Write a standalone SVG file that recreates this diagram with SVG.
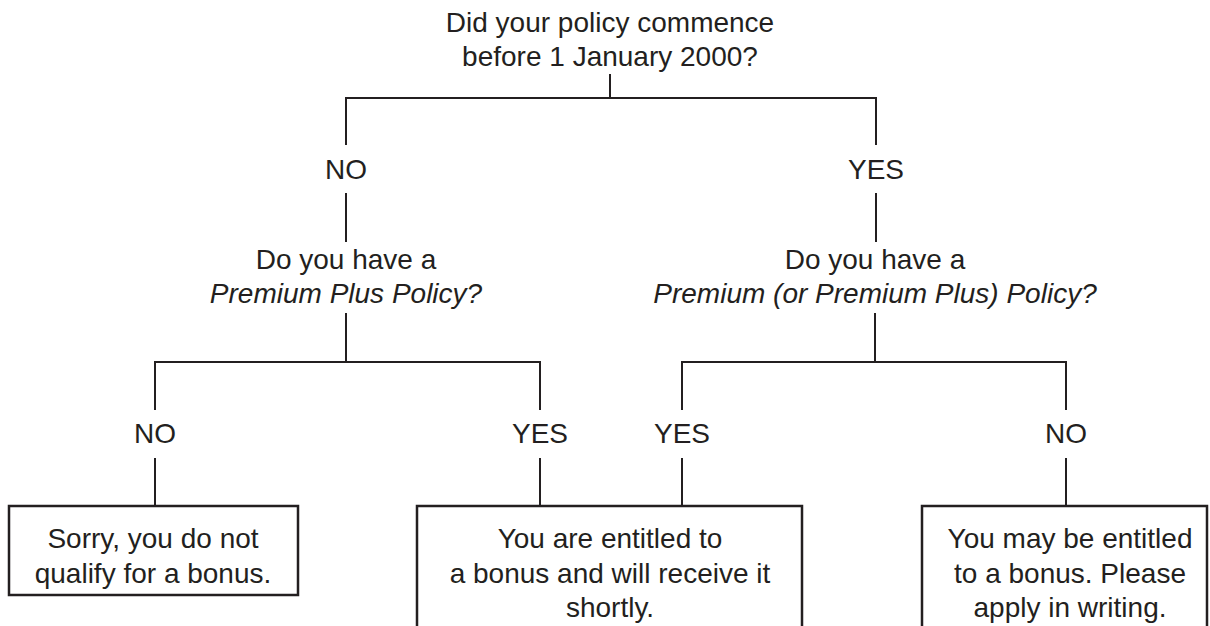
<svg xmlns="http://www.w3.org/2000/svg" width="1210" height="626" viewBox="0 0 1210 626">
<style>
text{font-family:"Liberation Sans",Arial,Helvetica,sans-serif;font-size:28px;fill:#231f20;text-anchor:middle}
.it{font-style:italic}
.ln{stroke:#231f20;stroke-width:2;fill:none}
.box{stroke:#231f20;stroke-width:2.5;fill:#fff}
</style>
<rect width="1210" height="626" fill="#fff"/>
<g id="connectors" class="ln">
<path d="M610 74V98M346 145V98H876V145"/>
<path d="M346 193V242M876 193V242"/>
<path d="M346 313V362M155 410V362H540V410"/>
<path d="M875 313V362M682 410V362H1066V410"/>
<path d="M155 458V506M540 458V506M682 458V506M1066 458V506"/>
</g>
<g id="q1"><text x="610" y="32">Did your policy commence</text><text x="610" y="66">before 1 January 2000?</text></g>
<g id="l1-no"><text x="346" y="179">NO</text></g>
<g id="l1-yes"><text x="876" y="179">YES</text></g>
<g id="q2"><text x="346" y="269">Do you have a</text><text class="it" x="346" y="303">Premium Plus Policy?</text></g>
<g id="q3"><text x="875" y="269">Do you have a</text><text class="it" x="875" y="303">Premium (or Premium Plus) Policy?</text></g>
<g id="l2-no-left"><text x="155" y="443">NO</text></g>
<g id="l2-yes-left"><text x="540" y="443">YES</text></g>
<g id="l2-yes-right"><text x="682" y="443">YES</text></g>
<g id="l2-no-right"><text x="1066" y="443">NO</text></g>
<g id="r1"><rect class="box" x="9" y="506" width="289" height="89"/><text x="153" y="548">Sorry, you do not</text><text x="153" y="583">qualify for a bonus.</text></g>
<g id="r2"><rect class="box" x="417" y="506" width="385" height="140"/><text x="610" y="548">You are entitled to</text><text x="610" y="583">a bonus and will receive it</text><text x="610" y="617">shortly.</text></g>
<g id="r3"><rect class="box" x="922" y="506" width="285" height="140"/><text x="1070" y="548">You may be entitled</text><text x="1070" y="583">to a bonus. Please</text><text x="1070" y="617">apply in writing.</text></g>
</svg>
